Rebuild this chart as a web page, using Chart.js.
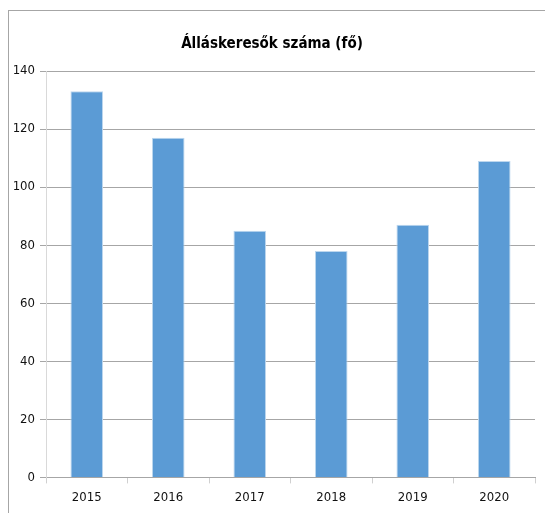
<!DOCTYPE html>
<html>
<head>
<meta charset="utf-8">
<script src="https://cdn.jsdelivr.net/npm/chart.js@4/dist/chart.umd.min.js"></script>
<style>
  html, body { margin: 0; padding: 0; background: #fff; }
  #frame {
    position: absolute; left: 8px; top: 10px; width: 537px; height: 503px;
    border-left: 1px solid #a6a6a6; border-top: 1px solid #a6a6a6;
  }
  #chart { display: block; }
</style>
</head>
<body>
<div id="frame"><canvas id="chart" width="536" height="502"></canvas></div>
<script>
const years = ['2015', '2016', '2017', '2018', '2019', '2020'];
const jobseekers = [133, 117, 85, 78, 87, 109];
const chartTitle = 'Álláskeresők száma (fő)';

const FONT = "'Liberation Sans Narrow', 'DejaVu Sans Condensed', Arial, sans-serif";

let chart = null;

function initChart() {
    const ctx = document.getElementById('chart').getContext('2d');
    chart = new Chart(ctx, {
        type: 'bar',
        data: {
            labels: years,
            datasets: [{
                label: chartTitle,
                data: jobseekers,
                backgroundColor: '#5b9bd5',
                borderColor: '#bdd7ee',
                borderWidth: 1,
                categoryPercentage: 1,
                barPercentage: 0.4
            }]
        },
        options: {
            responsive: false,
            animation: false,
            layout: { padding: { left: 0, right: 10, top: 0, bottom: 2 } },
            plugins: {
                legend: { display: false },
                tooltip: { enabled: false },
                title: {
                    display: true,
                    text: chartTitle,
                    color: '#000',
                    font: { family: FONT, size: 15, weight: 'bold' },
                    padding: { top: 24, bottom: 18 }
                }
            },
            scales: {
                x: {
                    grid: {
                        drawOnChartArea: false,
                        color: '#d0d0d0',
                        tickLength: 6
                    },
                    border: { color: '#a6a6a6' },
                    ticks: {
                        color: '#111',
                        font: { family: FONT, size: 13 },
                        padding: 6
                    }
                },
                y: {
                    min: 0,
                    max: 140,
                    afterFit: (axis) => { axis.width = 37; },
                    grid: {
                        color: '#a6a6a6',
                        tickLength: 6
                    },
                    border: { color: '#d9d9d9' },
                    ticks: {
                        stepSize: 20,
                        color: '#111',
                        font: { family: FONT, size: 13 },
                        padding: 5
                    }
                }
            }
        }
    });
}

initChart();
</script>
</body>
</html>
